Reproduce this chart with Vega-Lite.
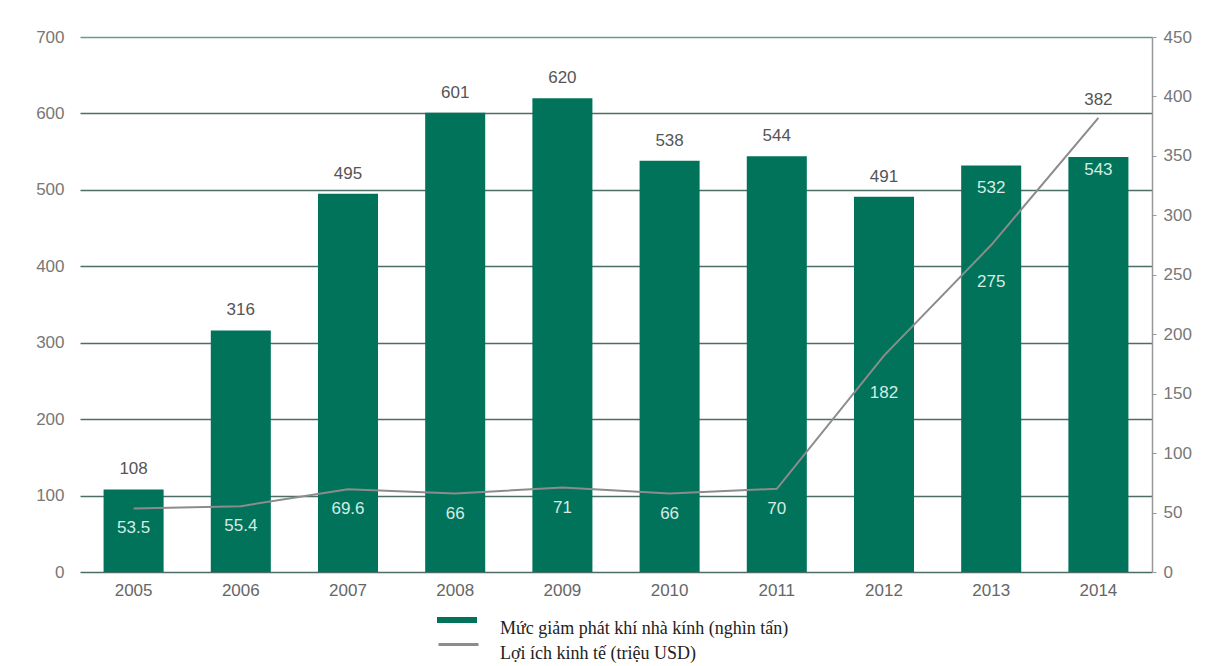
{
  "$schema": "https://vega.github.io/schema/vega-lite/v6.json",
  "width": 1072,
  "height": 535,
  "autosize": {"type": "none"},
  "padding": {"left": 80, "top": 37, "right": 63, "bottom": 94},
  "background": "white",
  "config": {"view": {"stroke": null}, "font": "Liberation Sans"},
  "data": {
    "values": [
      {"year": 2005, "emission": 108, "benefit": 53.5},
      {"year": 2006, "emission": 316, "benefit": 55.4},
      {"year": 2007, "emission": 495, "benefit": 69.6},
      {"year": 2008, "emission": 601, "benefit": 66},
      {"year": 2009, "emission": 620, "benefit": 71},
      {"year": 2010, "emission": 538, "benefit": 66},
      {"year": 2011, "emission": 544, "benefit": 70},
      {"year": 2012, "emission": 491, "benefit": 182},
      {"year": 2013, "emission": 532, "benefit": 275},
      {"year": 2014, "emission": 543, "benefit": 382}
    ]
  },
  "encoding": {
    "x": {
      "field": "year",
      "type": "ordinal",
      "scale": {"paddingInner": 0.44, "paddingOuter": 0.22},
      "axis": {
        "title": null,
        "ticks": false,
        "domain": false,
        "labelAngle": 0,
        "labelPadding": 10,
        "labelFontSize": 17,
        "labelColor": "#666666"
      }
    }
  },
  "layer": [
    {
      "encoding": {
        "y": {
          "field": "emission",
          "type": "quantitative",
          "scale": {"domain": [0, 700], "nice": false},
          "axis": {
            "title": null,
            "orient": "left",
            "domain": false,
            "ticks": false,
            "labelPadding": 16,
            "labelFontSize": 17,
            "labelColor": "#777777",
            "values": [0, 100, 200, 300, 400, 500, 600, 700],
            "grid": true,
            "gridColor": {"condition": {"test": "datum.value === 700", "value": "#5f9e8e"}, "value": "#4c6e66"},
            "gridWidth": 1.5
          }
        }
      },
      "layer": [
        {
          "mark": {"type": "bar"},
          "encoding": {
            "fill": {
              "datum": "Mức giảm phát khí nhà kính (nghìn tấn)",
              "type": "nominal",
              "scale": {"range": ["#00735a"]},
              "legend": {
                "title": null,
                "orient": "none",
                "legendX": 357,
                "legendY": 563,
                "padding": 0,
                "symbolType": "M-1,-0.15H1V0.15H-1Z",
                "symbolSize": 1600,
                "symbolStrokeWidth": 0,
                "labelFont": "Liberation Serif",
                "labelFontSize": 18,
                "labelColor": "#222222",
                "labelBaseline": "top",
                "labelOffset": 23,
                "labelLimit": 500
              }
            }
          }
        },
        {
          "transform": [{"filter": "datum.year <= 2012"}],
          "mark": {"type": "text", "dy": -20, "fontSize": 17, "color": "#555555", "baseline": "middle"},
          "encoding": {"text": {"field": "emission", "type": "nominal"}}
        },
        {
          "transform": [{"filter": "datum.year == 2013"}],
          "mark": {"type": "text", "dy": 23, "fontSize": 17, "color": "#d5ece4", "baseline": "middle"},
          "encoding": {"text": {"field": "emission", "type": "nominal"}}
        },
        {
          "transform": [{"filter": "datum.year == 2014"}],
          "mark": {"type": "text", "dy": 13, "fontSize": 17, "color": "#d5ece4", "baseline": "middle"},
          "encoding": {"text": {"field": "emission", "type": "nominal"}}
        }
      ]
    },
    {
      "encoding": {
        "y": {
          "field": "benefit",
          "type": "quantitative",
          "scale": {"domain": [0, 450], "nice": false},
          "axis": {
            "title": null,
            "orient": "right",
            "grid": false,
            "domainColor": "#999999",
            "domainWidth": 1.5,
            "tickColor": "#999999",
            "tickSize": 4,
            "labelPadding": 7,
            "labelFontSize": 17,
            "labelColor": "#777777",
            "values": [0, 50, 100, 150, 200, 250, 300, 350, 400, 450]
          }
        }
      },
      "layer": [
        {
          "mark": {"type": "line", "strokeWidth": 2},
          "encoding": {
            "stroke": {
              "datum": "Lợi ích kinh tế (triệu USD)",
              "type": "nominal",
              "scale": {"range": ["#8c8c8c"]},
              "legend": {
                "title": null,
                "orient": "none",
                "legendX": 357,
                "legendY": 586,
                "padding": 0,
                "symbolType": "stroke",
                "symbolSize": 1600,
                "symbolStrokeWidth": 3,
                "labelFont": "Liberation Serif",
                "labelFontSize": 18,
                "labelColor": "#222222",
                "labelBaseline": "top",
                "labelOffset": 20,
                "labelLimit": 500
              }
            }
          }
        },
        {
          "transform": [{"filter": "datum.year <= 2011"}],
          "mark": {"type": "text", "dy": 20, "fontSize": 17, "color": "#d5ece4", "baseline": "middle"},
          "encoding": {"text": {"field": "benefit", "type": "nominal"}}
        },
        {
          "transform": [{"filter": "datum.year == 2012 || datum.year == 2013"}],
          "mark": {"type": "text", "dy": 37, "fontSize": 17, "color": "#d5ece4", "baseline": "middle"},
          "encoding": {"text": {"field": "benefit", "type": "nominal"}}
        },
        {
          "transform": [{"filter": "datum.year == 2014"}],
          "mark": {"type": "text", "dy": -18, "fontSize": 17, "color": "#555555", "baseline": "middle"},
          "encoding": {"text": {"field": "benefit", "type": "nominal"}}
        }
      ]
    }
  ],
  "resolve": {"scale": {"y": "independent"}}
}
